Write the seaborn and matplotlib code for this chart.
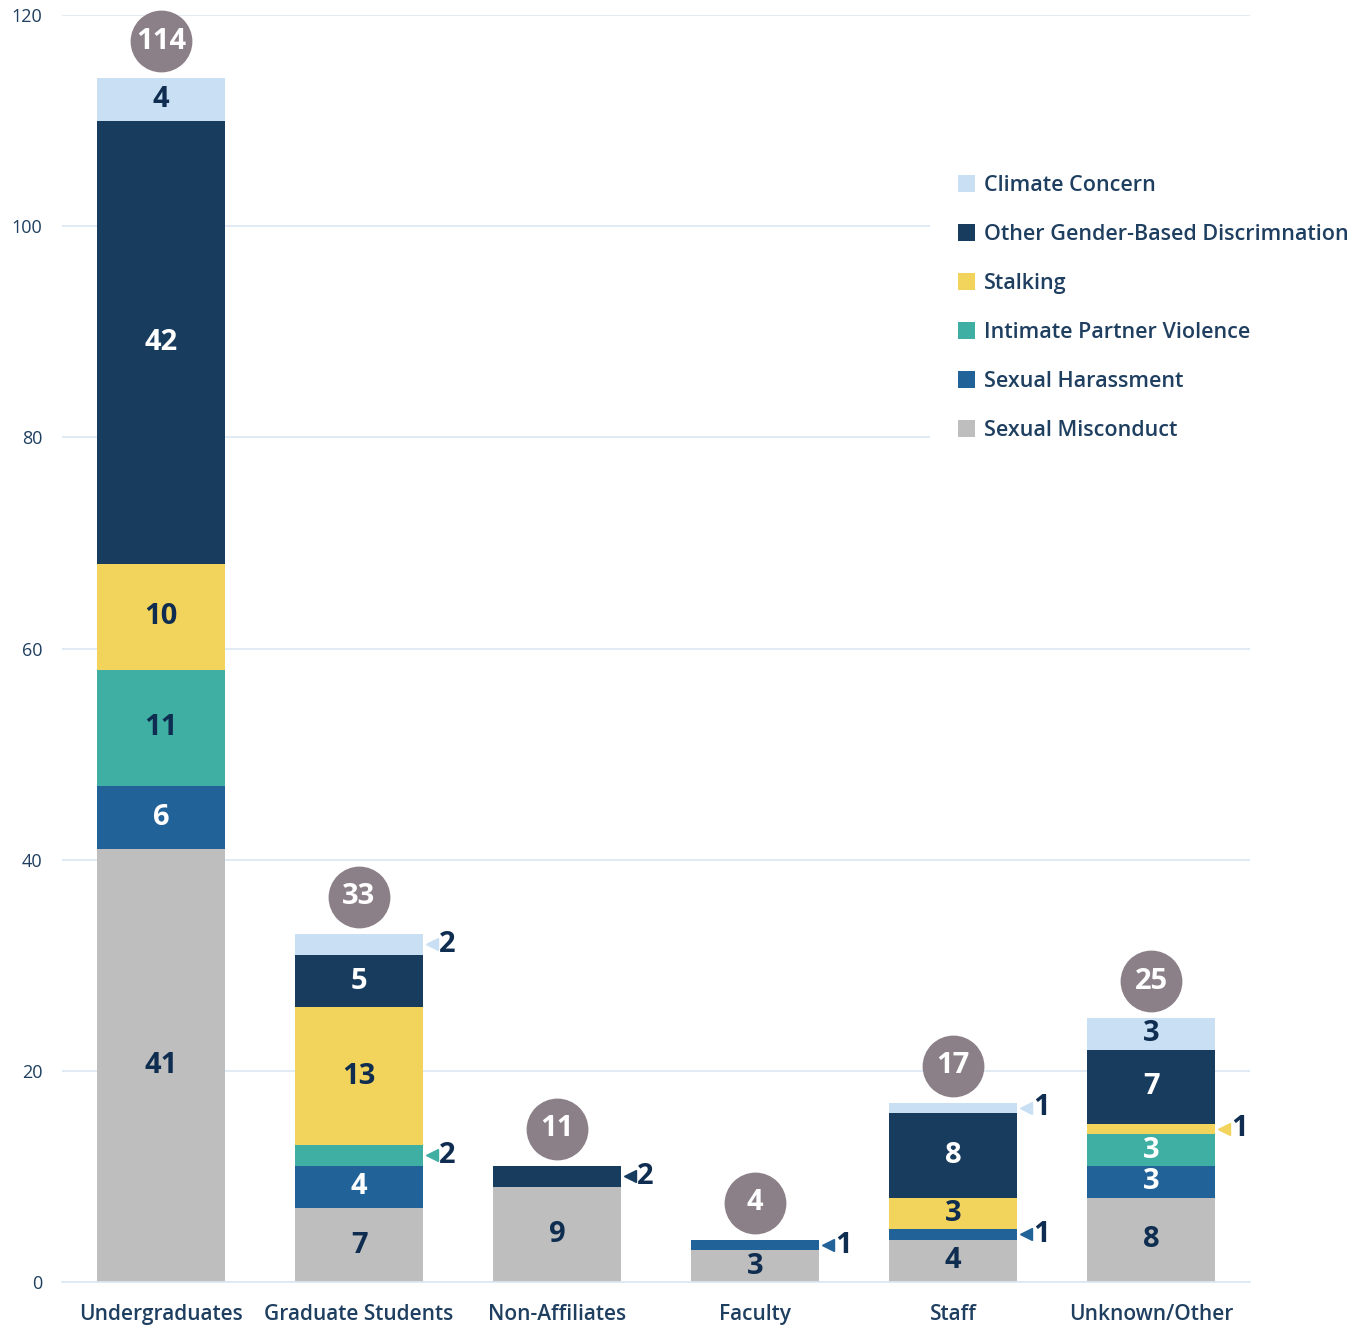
"""Stacked bar chart of reports by affiliation and type."""

import matplotlib
matplotlib.use("Agg")
import matplotlib.pyplot as plt
import matplotlib.transforms as mtransforms
import numpy as np
import pandas as pd
import seaborn as sns

CATEGORIES = ["Undergraduates", "Graduate Students", "Non-Affiliates",
              "Faculty", "Staff", "Unknown/Other"]

# stacking order, bottom to top
SERIES = ["Sexual Misconduct", "Sexual Harassment", "Intimate Partner Violence",
          "Stalking", "Other Gender-Based Discrimnation", "Climate Concern"]

sexual_misconduct = [41, 7, 9, 3, 4, 8]
sexual_harassment = [6, 4, 0, 1, 1, 3]
intimate_partner = [11, 2, 0, 0, 0, 3]
stalking = [10, 13, 0, 0, 3, 1]
other_gbd = [42, 5, 2, 0, 8, 7]
climate = [4, 2, 0, 0, 1, 3]

VALUES = [sexual_misconduct, sexual_harassment, intimate_partner,
          stalking, other_gbd, climate]

COLORS = ["#bebebe", "#216399", "#40afa3", "#f2d45c", "#183c5e", "#c9e0f4"]
NAVY = "#0f2d50"
TICK = "#1f3f60"
GRID = "#dbe8f5"
CIRCLE = "#8b7f88"
LABEL_COLORS = [NAVY, "white", NAVY, NAVY, "white", NAVY]
WHITE_OVERRIDE = {("Unknown/Other", "Intimate Partner Violence")}

FONT = ["Open Sans", "DejaVu Sans"]

sns.set_theme(style="white")
plt.rcParams["font.family"] = FONT

rows = []
for s, vals in zip(SERIES, VALUES):
    for c, v in zip(CATEGORIES, vals):
        rows.append({"category": c, "series": s, "value": v})
df = pd.DataFrame(rows)
df["series"] = pd.Categorical(df["series"], SERIES, ordered=True)
df = df.sort_values(["category", "series"])
df["top"] = df.groupby("category")["value"].cumsum()
df["bottom"] = df["top"] - df["value"]

fig = plt.figure(figsize=(13.69, 13.26), dpi=100)
ax = fig.add_axes([62 / 1369, 1 - 1282 / 1326, (1250 - 62) / 1369, (1282 - 15) / 1326])

# overlapping cumulative bars, tallest first
for s, col in reversed(list(zip(SERIES, COLORS))):
    sub = df[df["series"] == s]
    sns.barplot(data=sub, x="category", y="top", order=CATEGORIES, color=col,
                width=0.65, errorbar=None, saturation=1, linewidth=0, ax=ax,
                label=s)

ax.set_xlim(-0.5, len(CATEGORIES) - 0.5)
ax.set_ylim(0, 120)
ax.set_yticks(np.arange(0, 121, 20))
ax.set_xlabel("")
ax.set_ylabel("")
ax.set_axisbelow(True)
ax.yaxis.grid(True, color=GRID, linewidth=1.2)
ax.xaxis.grid(False)
for side in ["top", "right", "left"]:
    ax.spines[side].set_visible(False)
ax.spines["bottom"].set_color(GRID)
ax.spines["bottom"].set_linewidth(1.2)
ax.tick_params(axis="y", length=0, pad=14, labelsize=13, labelcolor=TICK)
ax.tick_params(axis="x", length=0, pad=16, labelsize=15, labelcolor=TICK)
for lab in ax.get_xticklabels():
    lab.set_fontweight("semibold")

pos = {c: i for i, c in enumerate(CATEGORIES)}
half = 0.65 / 2
for _, r in df.iterrows():
    if r["value"] == 0:
        continue
    x = pos[r["category"]]
    mid = (r["top"] + r["bottom"]) / 2
    si = SERIES.index(r["series"])
    if r["value"] >= 3:
        tc = LABEL_COLORS[si]
        if (r["category"], r["series"]) in WHITE_OVERRIDE:
            tc = "white"
        ax.text(x, mid, str(r["value"]), ha="center", va="center",
                fontsize=21, fontweight="bold", color=tc)
    else:
        ax.plot(x + half + 0.045, mid, marker="<", markersize=8,
                color=COLORS[si], linestyle="none", clip_on=False)
        ax.text(x + half + 0.078, mid, str(r["value"]), ha="left", va="center",
                fontsize=21, fontweight="bold", color=NAVY)

totals = df.groupby("category")["value"].sum().reindex(CATEGORIES)
up = mtransforms.offset_copy(ax.transData, fig=fig, x=0, y=37, units="dots")
xs = np.arange(len(CATEGORIES))
ax.scatter(xs, totals.values, s=1980, color=CIRCLE, transform=up,
           clip_on=False, zorder=5, linewidths=0)
for x, t in zip(xs, totals.values):
    ax.text(x, t, str(t), transform=up, ha="center", va="center",
            fontsize=21, fontweight="bold", color="white", zorder=6)

handles, labels = ax.get_legend_handles_labels()
order = [labels.index(s) for s in reversed(SERIES)]
leg = ax.legend([handles[i] for i in order], [labels[i] for i in order],
                loc="upper left", bbox_to_anchor=(930 / 1369, 1 - 147 / 1326),
                bbox_transform=fig.transFigure, borderaxespad=0, borderpad=1.3,
                fontsize=15.5, labelspacing=1.3, handlelength=0.8,
                handleheight=0.8, handletextpad=0.4, frameon=True,
                facecolor="white", edgecolor="none", framealpha=1,
                fancybox=False)
for t in leg.get_texts():
    t.set_color(TICK)
    t.set_fontweight("semibold")

fig.savefig("out.png", dpi=100, facecolor="white")
